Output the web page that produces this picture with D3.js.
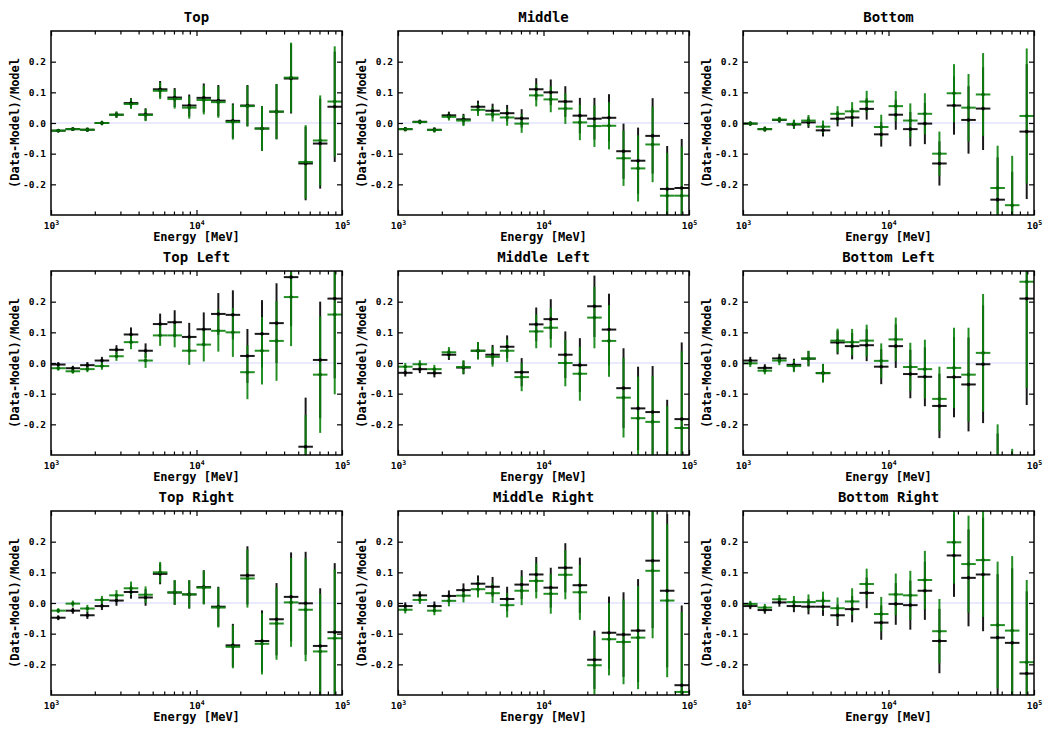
<!DOCTYPE html>
<html><head><meta charset="utf-8">
<script src="https://cdn.jsdelivr.net/npm/d3@7"></script>
<style>body{margin:0;background:#fff}svg text{font-family:"DejaVu Sans Mono",monospace;font-weight:bold}</style>
</head><body><svg id="c" width="1050" height="735"></svg>
<script>
// Energy bin edges (MeV)
const binEdges = [1000,1259,1585,1995,2512,3162,3981,5012,6310,7943,10000,12589,15849,19953,25119,31623,39811,50119,63096,79433,100000];
const panelTitles = ["Top","Middle","Bottom","Top Left","Middle Left","Bottom Left","Top Right","Middle Right","Bottom Right"];
const yTicks = [-0.2,-0.1,0.0,0.1,0.2];
const xMajorTicks = [1e3,1e4,1e5];
const xMinorTicks = [2e3,3e3,4e3,5e3,6e3,7e3,8e3,9e3,2e4,3e4,4e4,5e4,6e4,7e4,8e4,9e4];
const xTickBase = ["10","10","10"];
const xTickExp = ["3","4","5"];

const topGreen = [-0.025,-0.02,-0.022,0.0,0.027,0.062,0.026,0.105,0.078,0.05,0.075,0.068,0.003,0.055,-0.018,0.037,0.148,-0.127,-0.057,0.07];
const topBlack = [-0.025,-0.02,-0.022,0.0,0.027,0.065,0.028,0.11,0.083,0.057,0.082,0.073,0.007,0.057,-0.018,0.037,0.145,-0.132,-0.067,0.053];
const topErr   = [0.005,0.005,0.007,0.007,0.01,0.016,0.02,0.027,0.031,0.036,0.047,0.051,0.057,0.067,0.073,0.09,0.114,0.12,0.147,0.18];

const middleGreen = [-0.02,0.003,-0.023,0.02,0.008,0.043,0.028,0.018,-0.002,0.09,0.077,0.047,0.002,-0.01,-0.009,-0.115,-0.148,-0.07,-0.237,-0.237];
const middleBlack = [-0.02,0.004,-0.022,0.025,0.012,0.053,0.04,0.032,0.015,0.11,0.1,0.07,0.024,0.014,0.017,-0.092,-0.123,-0.042,-0.215,-0.212];
const middleErr   = [0.007,0.007,0.008,0.012,0.018,0.02,0.023,0.027,0.03,0.036,0.042,0.05,0.058,0.068,0.077,0.09,0.108,0.123,0.14,0.16];

const bottomGreen = [-0.002,-0.02,0.011,-0.003,0.008,-0.012,0.03,0.038,0.07,-0.013,0.055,0.008,0.03,-0.1,0.097,0.05,0.093,-0.212,-0.268,0.023];
const bottomBlack = [-0.002,-0.02,0.01,-0.005,0.002,-0.024,0.014,0.018,0.046,-0.037,0.027,-0.02,-0.002,-0.132,0.057,0.01,0.047,-0.25,-0.32,-0.028];
const bottomErr   = [0.007,0.008,0.009,0.014,0.018,0.02,0.025,0.03,0.035,0.04,0.049,0.056,0.067,0.072,0.095,0.11,0.135,0.138,0.161,0.22];

const topLeftGreen = [-0.017,-0.027,-0.02,-0.01,0.022,0.068,0.008,0.09,0.09,0.04,0.06,0.105,0.1,-0.03,0.04,0.072,0.215,-0.33,-0.038,0.158];
const topLeftBlack = [-0.005,-0.017,-0.007,0.008,0.043,0.093,0.04,0.127,0.133,0.085,0.11,0.16,0.157,0.023,0.095,0.13,0.28,-0.273,0.01,0.21];
const topLeftErr   = [0.008,0.008,0.01,0.012,0.015,0.023,0.024,0.034,0.039,0.046,0.055,0.068,0.08,0.088,0.11,0.13,0.16,0.16,0.19,0.26];

const middleLeftGreen = [-0.012,-0.004,-0.02,0.035,-0.013,0.04,0.02,0.04,-0.046,0.103,0.115,0.0,-0.035,0.148,0.072,-0.113,-0.18,-0.192,-0.33,-0.212];
const middleLeftBlack = [-0.032,-0.02,-0.033,0.027,-0.015,0.04,0.027,0.053,-0.03,0.126,0.143,0.027,-0.007,0.185,0.109,-0.082,-0.148,-0.16,-0.31,-0.183];
const middleLeftErr   = [0.012,0.013,0.014,0.017,0.022,0.028,0.032,0.037,0.046,0.055,0.065,0.076,0.088,0.1,0.117,0.13,0.136,0.15,0.19,0.25];

const bottomLeftGreen = [-0.001,-0.025,0.008,-0.01,0.015,-0.033,0.073,0.068,0.073,0.007,0.077,-0.013,-0.02,-0.117,-0.016,-0.038,0.033,-0.38,-0.5,0.265];
const bottomLeftBlack = [0.008,-0.016,0.015,-0.006,0.014,-0.033,0.067,0.055,0.058,-0.012,0.055,-0.036,-0.045,-0.14,-0.046,-0.07,-0.004,-0.41,-0.53,0.21];
const bottomLeftErr   = [0.012,0.012,0.015,0.02,0.025,0.03,0.039,0.043,0.052,0.057,0.071,0.079,0.096,0.105,0.131,0.153,0.192,0.18,0.22,0.347];

const topRightGreen = [-0.025,-0.002,-0.018,0.01,0.025,0.048,0.027,0.1,0.035,0.028,0.05,-0.015,-0.143,0.08,-0.133,-0.067,0.002,-0.022,-0.158,-0.115];
const topRightBlack = [-0.048,-0.025,-0.04,-0.01,0.008,0.036,0.018,0.095,0.034,0.028,0.052,-0.012,-0.138,0.09,-0.124,-0.053,0.02,-0.001,-0.14,-0.095];
const topRightErr   = [0.008,0.01,0.012,0.013,0.017,0.022,0.027,0.034,0.04,0.046,0.055,0.065,0.07,0.095,0.1,0.118,0.145,0.168,0.188,0.225];

const middleRightGreen = [-0.022,0.01,-0.025,0.007,0.024,0.045,0.032,-0.007,0.04,0.072,0.03,0.092,0.035,-0.203,-0.118,-0.127,-0.113,0.105,0.008,-0.29];
const middleRightBlack = [-0.01,0.025,-0.01,0.023,0.042,0.063,0.053,0.013,0.06,0.093,0.05,0.115,0.058,-0.185,-0.097,-0.103,-0.09,0.138,0.04,-0.268];
const middleRightErr   = [0.012,0.013,0.015,0.018,0.022,0.027,0.032,0.04,0.047,0.057,0.065,0.08,0.09,0.095,0.118,0.138,0.168,0.22,0.25,0.26];

const bottomRightGreen = [-0.003,-0.015,0.012,0.003,0.003,0.007,-0.017,0.005,0.062,-0.036,0.028,0.025,0.075,-0.092,0.198,0.127,0.14,-0.072,-0.09,-0.193];
const bottomRightBlack = [-0.01,-0.023,0.002,-0.01,-0.012,-0.012,-0.04,-0.02,0.033,-0.064,-0.003,-0.007,0.04,-0.124,0.155,0.082,0.093,-0.113,-0.13,-0.23];
const bottomRightErr   = [0.01,0.012,0.014,0.02,0.025,0.03,0.035,0.043,0.05,0.056,0.068,0.08,0.095,0.105,0.135,0.158,0.185,0.207,0.243,0.268];

const greenSeries = [topGreen,middleGreen,bottomGreen,topLeftGreen,middleLeftGreen,bottomLeftGreen,topRightGreen,middleRightGreen,bottomRightGreen];
const blackSeries = [topBlack,middleBlack,bottomBlack,topLeftBlack,middleLeftBlack,bottomLeftBlack,topRightBlack,middleRightBlack,bottomRightBlack];
const errSeries = [topErr,middleErr,bottomErr,topLeftErr,middleLeftErr,bottomLeftErr,topRightErr,middleRightErr,bottomRightErr];

const svg = d3.select("#c");
const colLeft = [51, 398, 743], rowTop = [31, 271, 511];
const W = 291, H = 184;
const GREEN = "#0b820b", BLACK = "#000";

panelTitles.forEach((title, p) => {
  const r = Math.floor(p/3), c = p%3;
  const g = svg.append("g").attr("transform", `translate(${colLeft[c]},${rowTop[r]})`);
  const x = d3.scaleLog().domain([1e3,1e5]).range([0,W]);
  const y = d3.scaleLinear().domain([-0.3,0.3]).range([H,0]);

  const clipId = "clip"+p;
  g.append("clipPath").attr("id", clipId).append("rect").attr("width", W).attr("height", H);
  const plot = g.append("g").attr("clip-path", `url(#${clipId})`);

  plot.append("line").attr("x1",0).attr("x2",W).attr("y1",y(0)).attr("y2",y(0))
    .attr("stroke","#d4d4ff").attr("stroke-width",1.2);

  const bins = d3.range(binEdges.length-1).map(i => ({lo: binEdges[i], hi: binEdges[i+1], c: Math.sqrt(binEdges[i]*binEdges[i+1])}));
  const series = [
    {vals: blackSeries[p], col: BLACK, op: 0.9},
    {vals: greenSeries[p], col: GREEN, op: 0.9}
  ];
  series.forEach(s => {
    const sg = plot.append("g");
    bins.forEach((b,i) => {
      const v = s.vals[i], e = errSeries[p][i];
      sg.append("line").attr("x1", x(b.lo)).attr("x2", x(b.hi)).attr("y1", y(v)).attr("y2", y(v))
        .attr("stroke", s.col).attr("stroke-width", 2).attr("stroke-opacity", s.op);
      sg.append("line").attr("x1", x(b.c)).attr("x2", x(b.c)).attr("y1", y(v-e)).attr("y2", y(v+e))
        .attr("stroke", s.col).attr("stroke-width", 2).attr("stroke-opacity", s.op);
    });
  });
  series.forEach(s => {
    plot.append("g").selectAll("circle").data(bins).join("circle")
      .attr("cx", b => x(b.c)).attr("cy", (b,i) => y(s.vals[i])).attr("r", 1.8)
      .attr("fill", s.col === GREEN ? "#006400" : "#000");
  });

  // axes
  const axB = g.append("g").attr("transform", `translate(0,${H})`)
    .call(d3.axisBottom(x).tickValues(xMajorTicks).tickSize(-5).tickPadding(7).tickFormat(""));
  const axBm = g.append("g").attr("transform", `translate(0,${H})`)
    .call(d3.axisBottom(x).tickValues(xMinorTicks).tickSize(-3.5).tickFormat(""));
  const axT = g.append("g").call(d3.axisTop(x).tickValues(xMajorTicks).tickSize(-5).tickFormat(""));
  const axTm = g.append("g").call(d3.axisTop(x).tickValues(xMinorTicks).tickSize(-3.5).tickFormat(""));
  const axL = g.append("g").call(d3.axisLeft(y).tickValues(yTicks).tickSize(-5).tickPadding(5).tickFormat(d3.format(".1f")));
  const axR = g.append("g").attr("transform", `translate(${W},0)`).call(d3.axisRight(y).tickValues(yTicks).tickSize(-5).tickFormat(""));
  [axB,axBm,axT,axTm,axL,axR].forEach(a => {
    a.select(".domain").remove();
    a.selectAll(".tick line").attr("stroke","#000").attr("stroke-width",1.2);
    a.selectAll(".tick text").attr("font-size", 9.5).attr("fill","#000")
      .style("font-family","'DejaVu Sans Mono',monospace").style("font-weight","bold");
  });
  axL.selectAll(".tick text").text(d => d3.format(".1f")(d).replace("\u2212","-"));
  // x tick labels with superscript exponents
  axB.selectAll(".tick").each(function(d,i){
    const t = d3.select(this).select("text").text(null).attr("y", 14).attr("dy", null);
    t.append("tspan").text(xTickBase[i]);
    t.append("tspan").attr("font-size", 6.5).attr("dy", -4).text(xTickExp[i]);
  });

  g.append("rect").attr("width", W).attr("height", H).attr("fill","none")
    .attr("stroke","#000").attr("stroke-width",1.5);

  g.append("text").attr("x", W/2).attr("y", -9).attr("text-anchor","middle")
    .attr("font-size", 14).text(title);
  g.append("text").attr("x", W/2).attr("y", H+26).attr("text-anchor","middle")
    .attr("font-size", 12).text("Energy [MeV]");
  g.append("text").attr("transform", `translate(-32,${H/2}) rotate(-90)`).attr("text-anchor","middle")
    .attr("font-size", 12).text("(Data-Model)/Model");
});
</script></body></html>
